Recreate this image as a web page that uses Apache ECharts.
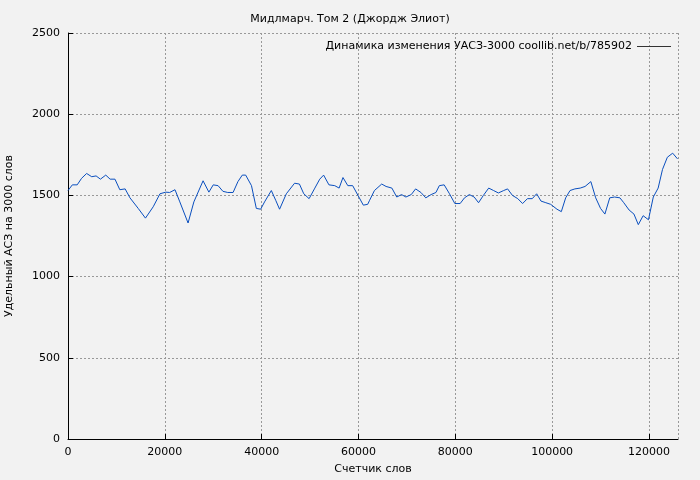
<!DOCTYPE html>
<html><head><meta charset="utf-8">
<script src="https://cdn.jsdelivr.net/npm/echarts@6/dist/echarts.min.js"></script>
<style>body{margin:0;background:#f2f2f2}#c{width:700px;height:480px}</style>
</head><body><div id="c"></div>
<script>
const xs = [0,900,1900,2800,3850,4900,5800,6700,7800,8700,9700,10700,11800,12800,14500,16000,17600,19000,20200,21000,22100,23100,24800,26000,27900,29100,30000,31000,32000,33000,34100,35100,36000,36700,37900,38900,39800,40600,42000,42900,43700,45100,46800,47800,48700,49800,50900,52000,52800,53900,55100,56000,56800,57800,58800,59900,61000,61900,62300,63300,64800,65700,66900,67900,68900,69800,70900,71800,72900,73900,75000,76000,76700,77700,78800,79900,81000,81900,82900,83900,84800,85800,86900,87900,88900,90000,90800,91800,92900,93900,94900,95900,96800,97700,98700,99700,101000,101900,102800,103700,104700,105800,106800,108000,109000,110000,110900,111900,112900,114000,114800,115900,116900,117800,118800,119900,120900,121900,122800,123800,124900,125900];
const ys = [1530,1565,1565,1605,1635,1615,1620,1600,1625,1600,1600,1535,1540,1485,1420,1360,1430,1510,1520,1518,1535,1460,1330,1460,1590,1520,1565,1560,1525,1518,1518,1585,1625,1625,1560,1420,1415,1460,1530,1470,1415,1510,1575,1570,1510,1480,1540,1600,1625,1565,1560,1545,1610,1560,1560,1500,1440,1445,1470,1530,1570,1555,1545,1490,1505,1490,1505,1540,1518,1485,1505,1518,1560,1565,1510,1450,1450,1485,1505,1490,1455,1500,1545,1530,1515,1530,1540,1500,1480,1450,1480,1480,1510,1465,1455,1445,1415,1400,1485,1530,1540,1545,1555,1585,1485,1420,1385,1485,1490,1485,1455,1410,1385,1320,1375,1350,1490,1545,1660,1735,1760,1725];
const seriesName = 'Динамика изменения УАСЗ-3000 coollib.net/b/785902';
const font = 'DejaVu Sans';
const chart = echarts.init(document.getElementById('c'));
const grid = {type:[2,2], color:'#999', width:1};
chart.setOption({
  backgroundColor:'#f2f2f2',
  animation:false,
  textStyle:{fontFamily:font},
  title:{text:'Мидлмарч. Том 2 (Джордж Элиот)', left:'center', top:9, textStyle:{fontSize:11, fontWeight:'normal', color:'#000', fontFamily:font}},
  legend:{right:24, top:36, itemWidth:34, itemHeight:1, icon:'rect', itemGap:6, align:'right',
    textStyle:{fontSize:11, color:'#000', fontFamily:font}, data:[{name:seriesName, itemStyle:{color:'#333'}}]},
  grid:{left:68, right:22, top:33, bottom:41, containLabel:false, outerBoundsMode:'none'},
  xAxis:{type:'value', min:0, max:126000, interval:20000, name:'Счетчик слов', nameLocation:'middle', nameGap:25,
    nameTextStyle:{fontSize:11,color:'#000'},
    axisLine:{lineStyle:{color:'#000'}}, axisTick:{inside:true, length:5, lineStyle:{color:'#000'}},
    axisLabel:{fontSize:11,color:'#000', showMaxLabel:false, formatter:v=>String(v)}, splitLine:{show:true, lineStyle:grid}},
  yAxis:{type:'value', min:0, max:2500, interval:500, name:'Удельный АСЗ на 3000 слов', nameLocation:'middle', nameGap:53,
    nameTextStyle:{fontSize:11,color:'#000'},
    axisLine:{show:true, lineStyle:{color:'#000'}}, axisTick:{show:true, inside:true, length:5, lineStyle:{color:'#000'}},
    axisLabel:{fontSize:11,color:'#000', formatter:v=>String(v)}, splitLine:{show:true, lineStyle:grid}},
  series:[{name:seriesName, type:'line', data:xs.map((x,i)=>[x,ys[i]]), showSymbol:false,
    lineStyle:{color:'#0a4fbf', width:1}, itemStyle:{color:'#0a4fbf'}}]
});
</script></body></html>
